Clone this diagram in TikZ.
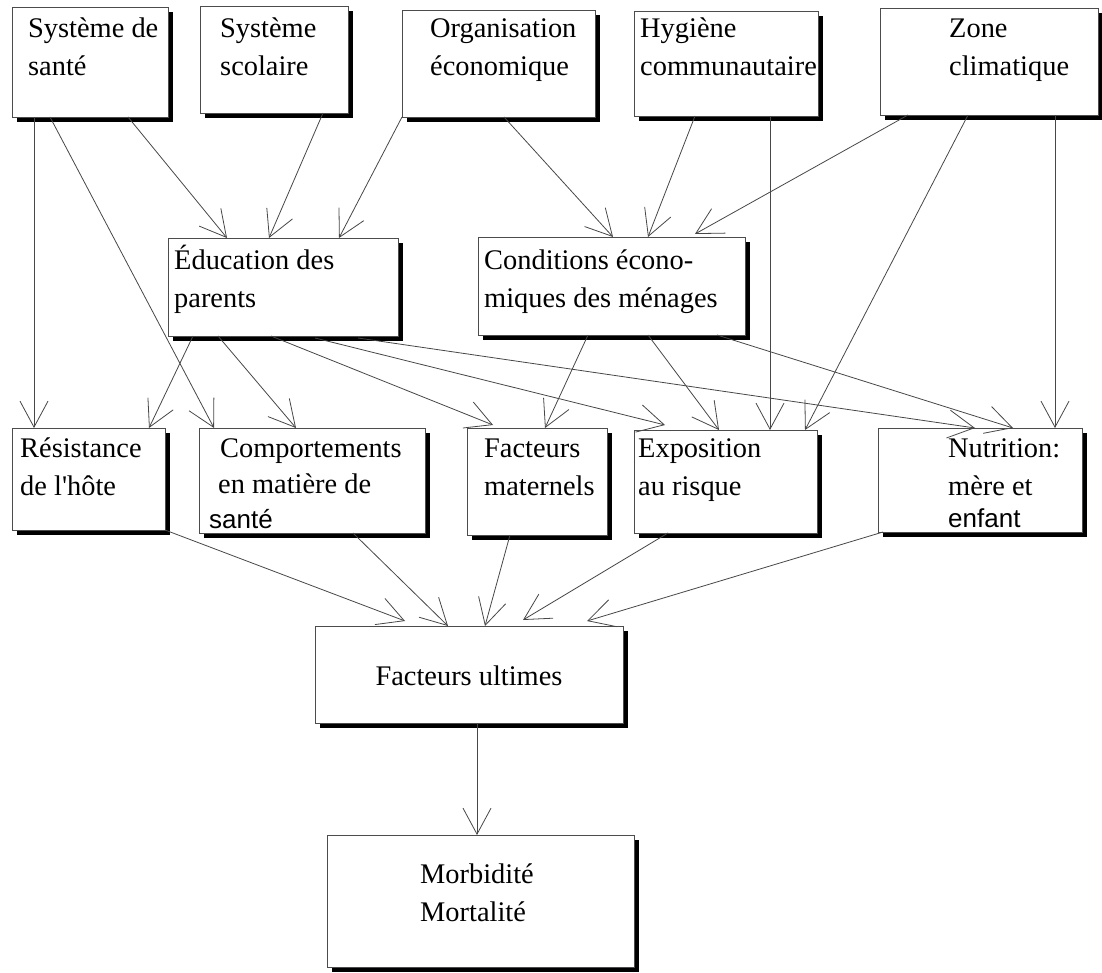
\documentclass[tikz,border=0pt]{standalone}
\usepackage{fontspec}
\setmainfont{Liberation Serif}
\setsansfont{Liberation Sans}
\usetikzlibrary{arrows.meta,shadows}
\newcommand\diafont{\fontsize{28.4}{38}\selectfont}
\newcommand\diasans{\fontsize{26}{38}\selectfont\sffamily}
\begin{document}
\begin{tikzpicture}[x=1pt,y=-1pt,
  box/.style={draw=black!70, line width=0.7pt, fill=white, inner sep=0pt, outer sep=0pt,
    anchor=north west, drop shadow={shadow xshift=5pt, shadow yshift=-5pt, opacity=1, fill=black}},
  lbl/.style={anchor=north west, inner sep=0pt, align=left, font=\diafont},
  arr/.style={draw=black!72, line width=0.8pt, -{Straight Barb[length=26pt, width=28pt, line width=0.8pt]}}]
\useasboundingbox (0,0) rectangle (1102,973);
% boxes
\node[box, minimum width=156pt, minimum height=110pt] (A) at (12,7) {};
\node[box, minimum width=148pt, minimum height=107pt] (B) at (200,6) {};
\node[box, minimum width=193pt, minimum height=107pt] (C) at (402,10) {};
\node[box, minimum width=184pt, minimum height=105pt] (D) at (634,11) {};
\node[box, minimum width=218pt, minimum height=107pt] (E) at (880,8) {};
\node[box, minimum width=230pt, minimum height=98pt] (F) at (168,238) {};
\node[box, minimum width=267pt, minimum height=98pt] (G) at (478,237) {};
\node[box, minimum width=153pt, minimum height=102pt] (H) at (12,428) {};
\node[box, minimum width=226pt, minimum height=105pt] (I) at (199,428) {};
\node[box, minimum width=140pt, minimum height=107pt] (J) at (467,428) {};
\node[box, minimum width=183pt, minimum height=103pt] (K) at (634,430) {};
\node[box, minimum width=204pt, minimum height=104pt] (L) at (878,428) {};
\node[box, minimum width=308pt, minimum height=97pt] (M) at (315,626) {};
\node[box, minimum width=307pt, minimum height=132pt] (N) at (327,835) {};
% texts
\node[lbl] (tA) at (28,11) {\strut Système de\\santé};
\node[lbl] (tB) at (220,11) {\strut Système\\scolaire};
\node[lbl] (tC) at (430,11) {\strut Organisation\\économique};
\node[lbl] (tD) at (640,11) {\strut Hygiène\\communautaire};
\node[lbl] (tE) at (949,11) {\strut Zone\\climatique};
\node[lbl] (tF) at (174,243) {\strut Éducation des\\parents};
\node[lbl] (tG) at (484,243) {\strut Conditions écono-\\miques des ménages};
\node[lbl] (tH) at (20,431) {\strut Résistance\\de l\textquotesingle hôte};
\node[lbl] (tI) at (220,431) {\strut Comportements\\[-2pt]\hspace*{-2pt}en matière de\\[-3pt]\hspace*{-11pt}{\diasans santé}};
\node[lbl] (tJ) at (484,431) {\strut Facteurs\\maternels};
\node[lbl] (tK) at (638,431) {\strut Exposition\\au risque};
\node[lbl] (tL) at (948,431) {\strut Nutrition:\\mère et\\[-6pt]{\diasans enfant}};
\node[anchor=base, inner sep=0pt, font=\diafont] (tM) at (469,685) {Facteurs ultimes};
\node[lbl] (tN) at (420,857) {\strut Morbidité\\Mortalité};
% connectors
\draw[arr] ([xshift=22pt]A.south west) -- ([xshift=22pt]H.north west);
\draw[arr] ([xshift=38pt]A.south west) -- ([xshift=15pt]I.north west);
\draw[arr] ([xshift=116pt]A.south west) -- ([xshift=59pt]F.north west);
\draw[arr] ([xshift=123pt]B.south west) -- ([xshift=101pt]F.north west);
\draw[arr] ([xshift=0pt]C.south west) -- ([xshift=171pt]F.north west);
\draw[arr] ([xshift=102pt]C.south west) -- ([xshift=135pt]G.north west);
\draw[arr] ([xshift=61pt]D.south west) -- ([xshift=170pt]G.north west);
\draw[arr] ([xshift=28pt]E.south west) -- ([xshift=217pt,yshift=3pt]G.north west);
\draw[arr] ([xshift=136pt]D.south west) -- ([xshift=136pt]K.north west);
\draw[arr] ([xshift=88pt]E.south west) -- ([xshift=171pt]K.north west);
\draw[arr] ([xshift=175pt]E.south west) -- ([xshift=177pt]L.north west);
\draw[arr] ([xshift=25pt]F.south west) -- ([xshift=137pt]H.north west);
\draw[arr] ([xshift=50pt]F.south west) -- ([xshift=97pt]I.north west);
\draw[arr] ([xshift=103pt]F.south west) -- ([xshift=26pt,yshift=3pt]J.north west);
\draw[arr] ([xshift=147pt,yshift=-2pt]F.south west) -- ([xshift=31pt,yshift=5pt]K.north west);
\draw[arr] ([xshift=190pt,yshift=-2pt]F.south west) -- ([xshift=97pt]L.north west);
\draw[arr] ([xshift=110pt]G.south west) -- ([xshift=78pt]J.north west);
\draw[arr] ([xshift=170pt]G.south west) -- ([xshift=85pt]K.north west);
\draw[arr] ([xshift=239pt]G.south west) -- ([xshift=135pt]L.north west);
\draw[arr] ([xshift=153pt]H.south west) -- ([xshift=90pt,yshift=5pt]M.north west);
\draw[arr] ([xshift=154pt]I.south west) -- ([xshift=133pt]M.north west);
\draw[arr] ([xshift=43pt]J.south west) -- ([xshift=170pt]M.north west);
\draw[arr] ([xshift=34pt]K.south west) -- ([xshift=208pt,yshift=6pt]M.north west);
\draw[arr] ([xshift=5pt]L.south west) -- ([xshift=272pt,yshift=5pt]M.north west);
\draw[arr] ([xshift=162pt]M.south west) -- ([xshift=150pt]N.north west);
\end{tikzpicture}
\end{document}
